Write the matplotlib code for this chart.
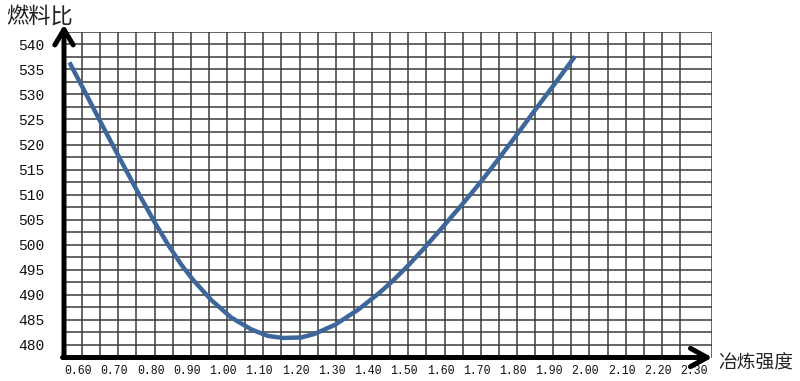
import numpy as np
import matplotlib
matplotlib.use('Agg')
import matplotlib.pyplot as plt
from matplotlib import transforms

# ---- data ----
intensity = [0.565, 0.615, 0.666, 0.71, 0.75, 0.80, 0.84, 0.875, 0.906, 0.956,
             1.011, 1.067, 1.113, 1.154, 1.205, 1.241, 1.297, 1.361, 1.417,
             1.453, 1.499, 1.54, 1.591, 1.647, 1.702, 1.752, 1.803, 1.849,
             1.904, 1.96]
fuel_ratio = [536.4, 529.5, 522.4, 516.4, 511.0, 504.5, 499.7, 495.9, 493.0, 489.0,
              485.5, 483.1, 481.8, 481.4, 481.5, 482.2, 484.0, 487.0, 490.2,
              492.5, 495.8, 499.0, 503.2, 507.9, 512.7, 517.4, 522.3, 526.8,
              532.1, 537.6]
x_ticks = [0.60, 0.70, 0.80, 0.90, 1.00, 1.10, 1.20, 1.30, 1.40, 1.50, 1.60,
           1.70, 1.80, 1.90, 2.00, 2.10, 2.20, 2.30]
x_tick_labels = ['0.60', '0.70', '0.80', '0.90', '1.00', '1.10', '1.20', '1.30',
                 '1.40', '1.50', '1.60', '1.70', '1.80', '1.90', '2.00', '2.10',
                 '2.20', '2.30']
y_ticks = [480, 485, 490, 495, 500, 505, 510, 515, 520, 525, 530, 535, 540]
y_tick_labels = ['480', '485', '490', '495', '500', '505', '510', '515', '520',
                 '525', '530', '535', '540']
x_title = '冶炼强度'
y_title = '燃料比'

# ---- layout ----
W, H = 800, 381
fig = plt.figure(figsize=(W / 100, H / 100), dpi=100)
L, R, T, B = 64, 712.3, 31.8, 357.5
ax = fig.add_axes([L / W, 1 - B / H, (R - L) / W, (B - T) / H])
xmin, xmax = 0.55, 2.339
ymin, ymax = 477.5, 542.5
ax.set_xlim(xmin, xmax)
ax.set_ylim(ymin, ymax)
for s in ax.spines.values():
    s.set_visible(False)

grid_c = '#3a3a3a'
vgrid = np.arange(0.60, 2.2501, 0.05)
ax.vlines(list(vgrid) + [xmax], ymin, ymax, colors=grid_c, lw=1.1, zorder=1)
hgrid = np.arange(480, 542.51, 2.5)
ax.hlines(hgrid, xmin, xmax, colors=grid_c, lw=1.1, zorder=1)

ax.plot(intensity, fuel_ratio, color='#3d679a', lw=3.2, solid_capstyle='butt',
        solid_joinstyle='round', zorder=3)

# ticks
ax.set_xticks(x_ticks)
ax.set_xticklabels(x_tick_labels, family='Liberation Mono', fontsize=8.3)
ax.set_yticks(y_ticks)
ax.set_yticklabels(y_tick_labels, family='Liberation Mono', fontsize=10.5)
ax.tick_params(axis='x', length=0, pad=5.6, colors='#111111')
ax.tick_params(axis='y', length=0, pad=14.0, colors='#111111')
off = transforms.ScaledTranslation(-4 / 100, 0, fig.dpi_scale_trans)
for lab in ax.get_xticklabels():
    lab.set_transform(lab.get_transform() + off)

# arrows (axes)
ax.annotate('', xy=(xmin, 543.9), xytext=(xmin, ymin),
            arrowprops=dict(arrowstyle='->, head_length=0.55, head_width=0.33',
                            lw=3.6, color='black', mutation_scale=20,
                            shrinkA=0, shrinkB=0),
            annotation_clip=False, zorder=5)
ax.annotate('', xy=(xmax, ymin), xytext=(xmin - 0.004, ymin),
            arrowprops=dict(arrowstyle='->, head_length=0.6, head_width=0.33',
                            lw=3.6, color='black', mutation_scale=20,
                            shrinkA=0, shrinkB=0),
            annotation_clip=False, zorder=5)

# titles
fig.text(6 / W, 1 - 16 / H, y_title, family=['Noto Sans CJK SC', 'DejaVu Sans'],
         fontsize=16, ha='left', va='center', color='#222222')
fig.text(718 / W, 1 - 363 / H, x_title, family=['Noto Sans CJK SC', 'DejaVu Sans'],
         fontsize=13.5, ha='left', va='center', color='#222222')

fig.savefig('out.png', dpi=100, facecolor='white')
